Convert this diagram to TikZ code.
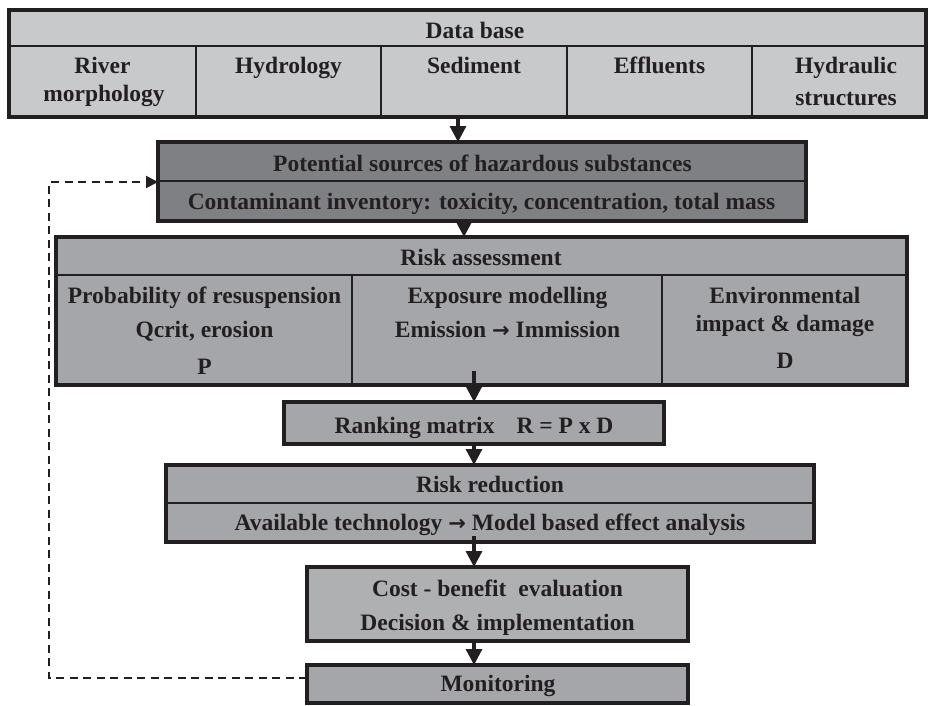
\documentclass[tikz,border=0pt]{standalone}
\usepackage{fontspec}
\setmainfont{Liberation Serif}
\newfontfamily\arrowfont{DejaVu Sans}
\usetikzlibrary{arrows.meta}
\definecolor{ink}{HTML}{231F20}
\definecolor{dbfill}{HTML}{C8C9CB}
\definecolor{srcfill}{HTML}{7F8083}
\definecolor{midfill}{HTML}{A5A6A9}
\definecolor{costfill}{HTML}{AFB0B2}
\newcommand{\goesto}{{\arrowfont\bfseries\fontsize{21}{28}\selectfont →}}
\begin{document}
\begin{tikzpicture}[x=1pt,y=-1pt,
  panel/.style={rectangle, draw=ink, line width=3.2pt, inner sep=0pt, outer sep=0pt},
  rule/.style={draw=ink, line width=1.4pt},
  lbl/.style={font=\fontsize{23.5}{28}\selectfont\bfseries, text=ink, anchor=base, inner sep=0pt},
  flow/.style={draw=ink, line width=3.2pt, -{Triangle[length=16pt,width=16pt]}},
  back/.style={draw=ink, line width=2pt, dash pattern=on 8pt off 5.5pt, -{Triangle[length=12pt,width=12pt]}}]
\useasboundingbox (0,0) rectangle (928,706);

% ---------- data base ----------
\node[panel, fill=dbfill, minimum width=917pt, minimum height=107pt] (db) at (467.5,63.5) {};
\draw[rule] (db.west |- 0,46) -- (db.east |- 0,46);
\foreach \cx in {196,381,567,752} \draw[rule] (\cx,46) -- (\cx,117);
\node[lbl] (dbt) at (475,39) {Data base};
\node[lbl] (c1a) at (102.5,74) {River};
\node[lbl] (c1b) at (104,102) {morphology};
\node[lbl] (c2) at (288.5,74) {Hydrology};
\node[lbl] (c3) at (474,74) {Sediment};
\node[lbl] (c4) at (659.5,74) {Effluents};
\node[lbl] (c5a) at (846,74) {Hydraulic};
\node[lbl] (c5b) at (846,106) {structures};

% ---------- potential sources ----------
\node[panel, fill=srcfill, minimum width=648pt, minimum height=79pt] (ps) at (482,181.5) {};
\draw[rule] (ps.west |- 0,181) -- (ps.east |- 0,181);
\node[lbl] (psa) at (482.5,171.5) {Potential sources of hazardous substances};
\node[lbl] (psb) at (481.5,209) {Contaminant inventory: toxicity, concentration, total mass};

% ---------- risk assessment ----------
\node[panel, fill=midfill, minimum width=851pt, minimum height=148pt] (ra) at (481.5,311) {};
\draw[rule] (ra.west |- 0,275) -- (ra.east |- 0,275);
\draw[rule] (352,275) -- (352,385);
\draw[rule] (662,275) -- (662,385);
\node[lbl] (rat) at (481,265.5) {Risk assessment};
\node[lbl] (pa) at (204.5,303) {Probability of resuspension};
\node[lbl] (pb) at (204.5,337.5) {Qcrit, erosion};
\node[lbl] (pc) at (204.5,374) {P};
\node[lbl] (ea) at (507.5,303) {Exposure modelling};
\node[lbl] (eb) at (507.5,337.5) {Emission \goesto{} Immission};
\node[lbl] (da) at (785,303) {Environmental};
\node[lbl] (db2) at (785,331.5) {impact \& damage};
\node[lbl] (dc) at (785,368) {D};

% ---------- ranking matrix ----------
\node[panel, fill=midfill, minimum width=380pt, minimum height=42pt] (rk) at (474,423) {};
\node[lbl] (rkt) at (474,433) {Ranking matrix\hspace{22pt}R = P x D};

% ---------- risk reduction ----------
\node[panel, fill=midfill, minimum width=648pt, minimum height=77pt] (rr) at (490,503.5) {};
\draw[rule] (rr.west |- 0,503) -- (rr.east |- 0,503);
\node[lbl] (rra) at (490,492.5) {Risk reduction};
\node[lbl] (rrb) at (490,530.5) {Available technology \goesto{} Model based effect analysis};

% ---------- cost - benefit ----------
\node[panel, fill=costfill, minimum width=381pt, minimum height=74pt] (cb) at (497.5,604) {};
\node[lbl] (cba) at (497.5,596) {Cost - benefit\hspace{6pt} evaluation};
\node[lbl] (cbb) at (497.5,630) {Decision \& implementation};

% ---------- monitoring ----------
\node[panel, fill=midfill, minimum width=381pt, minimum height=38pt] (mon) at (497.5,684) {};
\node[lbl] (mont) at (498,691.5) {Monitoring};

% ---------- flow arrows ----------
\coordinate (ax1) at (458,0);
\coordinate (ax2) at (464,0);
\coordinate (ax3) at (474,0);
\draw[flow] (db.south -| ax1) -- (ps.north -| ax1);
\draw[flow] (ps.south -| ax2) -- (ra.north -| ax2);
\draw[flow] ([yshift=14pt]ra.south -| ax3) -- (rk.north -| ax3);
\draw[flow] (rk.south -| ax3) -- (rr.north -| ax3);
\draw[flow] ([yshift=6pt]rr.south -| ax3) -- (cb.north -| ax3);
\draw[flow] (cb.south -| ax3) -- (mon.north -| ax3);

% ---------- feedback loop ----------
\coordinate (fb1) at (49,678);
\coordinate (fb2) at (49,182);
\draw[back] (mon.west |- fb1) -- (fb1) -- (fb2) -- (ps.west |- fb2);
\end{tikzpicture}
\end{document}
